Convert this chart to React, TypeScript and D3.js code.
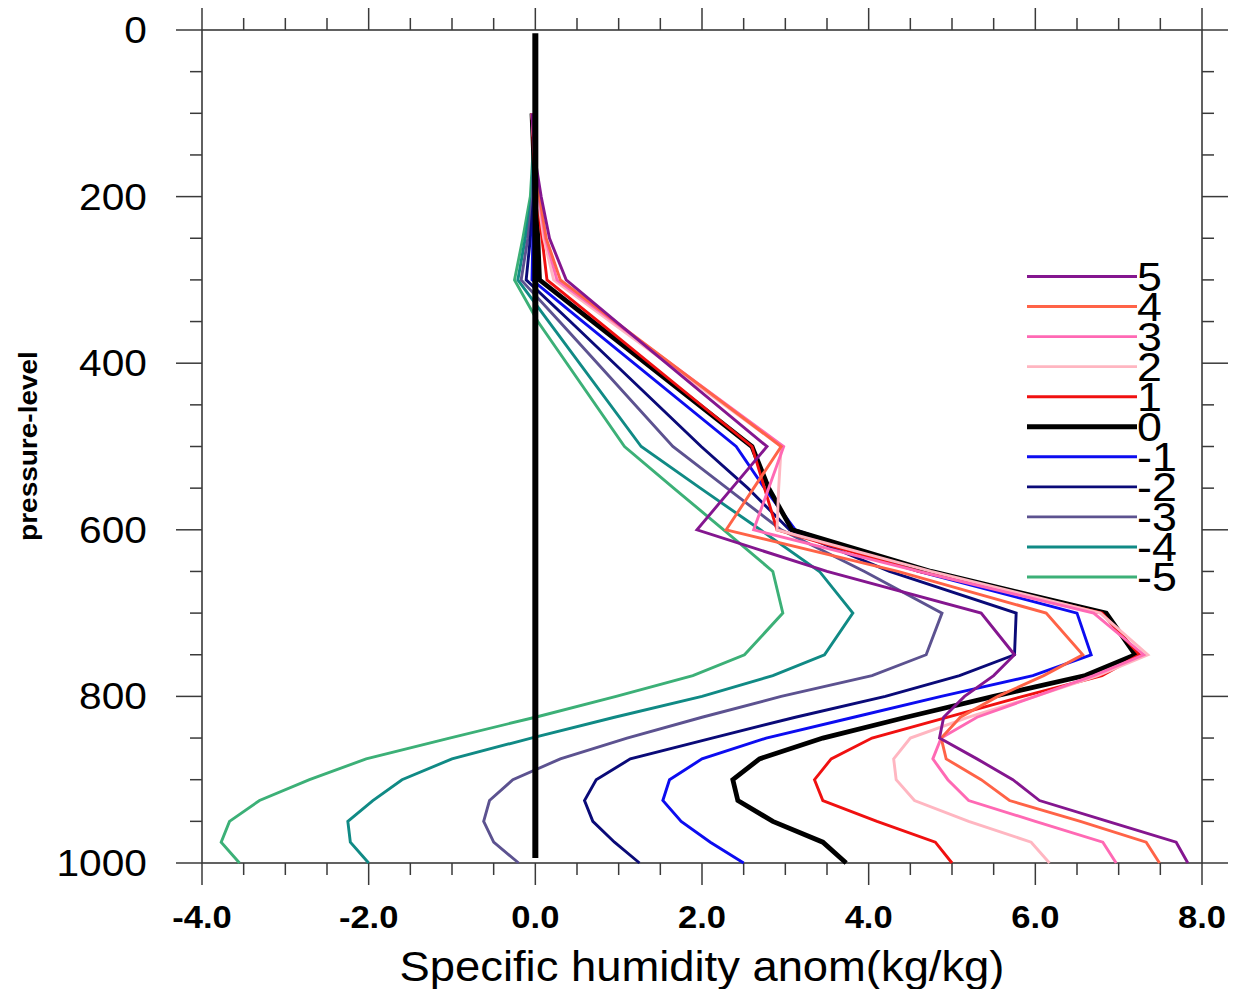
import React from "react";
import * as d3 from "d3";

// Pressure levels (hPa) shared by every profile
const LEVELS = [100, 150, 200, 250, 300, 350, 500, 550, 600, 650, 700, 750, 775, 800, 825, 850, 875, 900, 925, 950, 975, 1000];

// Specific humidity anomaly profiles, one per lag
const LAG_P5 = [-0.04, -0.01, 0.07, 0.17, 0.37, 0.97, 2.78, 2.36, 1.94, 3.5, 5.35, 5.75, 5.5, 5.15, 4.9, 4.85, 5.3, 5.73, 6.05, 6.87, 7.69, 7.83];
const LAG_P4 = [-0.04, -0.01, 0.05, 0.13, 0.3, 0.96, 2.95, 2.62, 2.29, 4.35, 6.13, 6.57, 6.1, 5.55, 5.1, 4.87, 4.93, 5.35, 5.69, 6.54, 7.33, 7.49];
const LAG_P3 = [-0.04, -0.01, 0.04, 0.12, 0.26, 0.94, 2.98, 2.8, 2.62, 4.6, 6.7, 7.3, 6.7, 6.0, 5.3, 4.87, 4.77, 4.95, 5.2, 6.0, 6.81, 6.97];
const LAG_P2 = [-0.04, -0.01, 0.03, 0.1, 0.22, 0.9, 2.95, 2.92, 2.9, 4.75, 6.78, 7.35, 6.75, 6.0, 5.2, 4.5, 4.3, 4.33, 4.55, 5.2, 5.95, 6.17];
const LAG_P1 = [-0.04, -0.02, 0.02, 0.08, 0.14, 0.76, 2.6, 2.75, 2.9, 4.6, 6.8, 7.25, 6.8, 5.85, 4.95, 4.04, 3.55, 3.35, 3.45, 4.1, 4.8, 5.0];
const LAG_0 = [-0.04, -0.02, 0.0, 0.03, 0.05, 0.69, 2.6, 2.8, 3.08, 4.75, 6.85, 7.2, 6.6, 5.5, 4.45, 3.45, 2.69, 2.37, 2.43, 2.85, 3.45, 3.73];
const LAG_M1 = [-0.04, -0.02, -0.01, -0.03, -0.04, 0.57, 2.41, 2.75, 3.12, 4.6, 6.5, 6.67, 5.97, 4.87, 3.82, 2.77, 2.0, 1.61, 1.53, 1.75, 2.1, 2.5];
const LAG_M2 = [-0.04, -0.02, -0.02, -0.06, -0.11, 0.42, 1.99, 2.55, 3.05, 4.25, 5.77, 5.75, 5.09, 4.2, 3.12, 2.12, 1.14, 0.73, 0.59, 0.69, 0.95, 1.25];
const LAG_M3 = [-0.04, -0.02, -0.03, -0.09, -0.17, 0.29, 1.65, 2.3, 2.95, 3.95, 4.88, 4.69, 4.04, 2.95, 2.0, 1.1, 0.3, -0.27, -0.55, -0.62, -0.5, -0.2];
const LAG_M4 = [-0.04, -0.03, -0.04, -0.12, -0.21, 0.16, 1.27, 1.98, 2.7, 3.41, 3.81, 3.47, 2.85, 2.0, 0.95, -0.05, -1.0, -1.6, -1.95, -2.25, -2.22, -2.0];
const LAG_M5 = [-0.04, -0.03, -0.06, -0.15, -0.25, 0.03, 1.07, 1.66, 2.26, 2.85, 2.97, 2.51, 1.89, 0.97, 0.0, -1.03, -2.03, -2.71, -3.31, -3.67, -3.77, -3.55];

const LAG_LABELS = ["5", "4", "3", "2", "1", "0", "-1", "-2", "-3", "-4", "-5"];
const LAG_VALUES = [LAG_P5, LAG_P4, LAG_P3, LAG_P2, LAG_P1, LAG_0, LAG_M1, LAG_M2, LAG_M3, LAG_M4, LAG_M5];
const LAG_COLORS = ["#84168f", "#ff6347", "#ff69b4", "#ffb6c1", "#f01010", "#000000", "#0c0cf0", "#0a0a78", "#5c5290", "#108a85", "#3cb077"];

// Zero reference line
const ZERO_LEVELS = [4, 994];

const X_MAJOR = d3.range(-4, 8.001, 2);
const X_MINOR = d3.range(-4, 8.001, 0.5);
const Y_MAJOR = d3.range(0, 1000.1, 200);
const Y_MINOR = d3.range(0, 1000.1, 50);

const FONT = "'Liberation Sans', Arial, Helvetica, sans-serif";

export default function App() {
  const x = d3.scaleLinear().domain([-4, 8]).range([202, 1202]);
  const y = d3.scaleLinear().domain([0, 1000]).range([30, 863]);
  const line = d3
    .line<[number, number]>()
    .x((d) => x(d[0]))
    .y((d) => y(d[1]));
  const legendY = d3.scalePoint<string>().domain(LAG_LABELS).range([276.5, 577]);

  const x0 = x(-4), x1 = x(8), y0 = y(0), y1 = y(1000);
  const axisColor = "#3a3a3a";
  const majorLen = 25;
  const minorLen = 12;
  const thin = 2.9;
  const thick = 4.8;

  // draw lags from -5 up to 5 so the positive lags sit on top
  const drawOrder = d3.range(LAG_LABELS.length).reverse();

  return (
    <svg
      width={1233}
      height={989}
      style={{ position: "absolute", left: 0, top: 0, background: "#fff" }}
      fontFamily={FONT}
    >
      <rect x={0} y={0} width={1233} height={989} fill="#fff" />

      {/* ticks on all four sides, pointing outward */}
      <g stroke={axisColor} strokeWidth={1.5}>
        {X_MINOR.map((v) => {
          const len = X_MAJOR.some((m) => Math.abs(m - v) < 1e-9) ? majorLen - 3 : minorLen;
          return (
            <g key={"xt" + v}>
              <line x1={x(v)} x2={x(v)} y1={y0} y2={y0 - len} />
              <line x1={x(v)} x2={x(v)} y1={y1} y2={y1 + len} />
            </g>
          );
        })}
        {Y_MINOR.map((v) => {
          const len = Y_MAJOR.some((m) => Math.abs(m - v) < 1e-9) ? majorLen + 1 : minorLen;
          return (
            <g key={"yt" + v}>
              <line x1={x0} x2={x0 - len} y1={y(v)} y2={y(v)} />
              <line x1={x1} x2={x1 + len} y1={y(v)} y2={y(v)} />
            </g>
          );
        })}
        <rect x={x0} y={y0} width={x1 - x0} height={y1 - y0} fill="none" strokeWidth={1.6} />
      </g>

      {/* profiles */}
      <g fill="none" strokeLinejoin="miter" strokeMiterlimit={6}>
        {drawOrder.map((i) => (
          <path
            key={LAG_LABELS[i]}
            d={line(LAG_VALUES[i].map((v, k) => [v, LEVELS[k]] as [number, number])) || ""}
            stroke={LAG_COLORS[i]}
            strokeWidth={LAG_LABELS[i] === "0" ? thick : thin}
          />
        ))}
        <path
          d={line(ZERO_LEVELS.map((p) => [0, p] as [number, number])) || ""}
          stroke="#000"
          strokeWidth={6}
        />
      </g>

      {/* legend */}
      <g>
        {LAG_LABELS.map((lab, i) => {
          const ly = legendY(lab) as number;
          return (
            <g key={"lg" + lab}>
              <line
                x1={1027}
                x2={1137}
                y1={ly}
                y2={ly}
                stroke={LAG_COLORS[i]}
                strokeWidth={lab === "0" ? thick : thin}
              />
              <text
                transform={`translate(1137,${ly + 14}) scale(1.12,1)`}
                fontSize={40}
                fill="#000"
              >
                {lab}
              </text>
            </g>
          );
        })}
      </g>

      {/* y tick labels */}
      {Y_MAJOR.map((v) => (
        <text
          key={"yl" + v}
          transform={`translate(147,${y(v) + 13}) scale(1.13,1)`}
          fontSize={36}
          textAnchor="end"
          fill="#000"
        >
          {String(v)}
        </text>
      ))}

      {/* x tick labels */}
      {X_MAJOR.map((v) => (
        <text
          key={"xl" + v}
          transform={`translate(${x(v)},928) scale(1.08,1)`}
          fontSize={32}
          fontWeight="bold"
          textAnchor="middle"
          fill="#000"
        >
          {v.toFixed(1)}
        </text>
      ))}

      {/* axis titles */}
      <text
        transform={`translate(702,981) scale(1.08,1)`}
        fontSize={42}
        textAnchor="middle"
        fill="#000"
      >
        Specific humidity anom(kg/kg)
      </text>
      <text
        transform={`translate(37,446) rotate(-90) scale(1.12,1)`}
        fontSize={25}
        fontWeight="bold"
        textAnchor="middle"
        fill="#000"
      >
        pressure-level
      </text>
    </svg>
  );
}
